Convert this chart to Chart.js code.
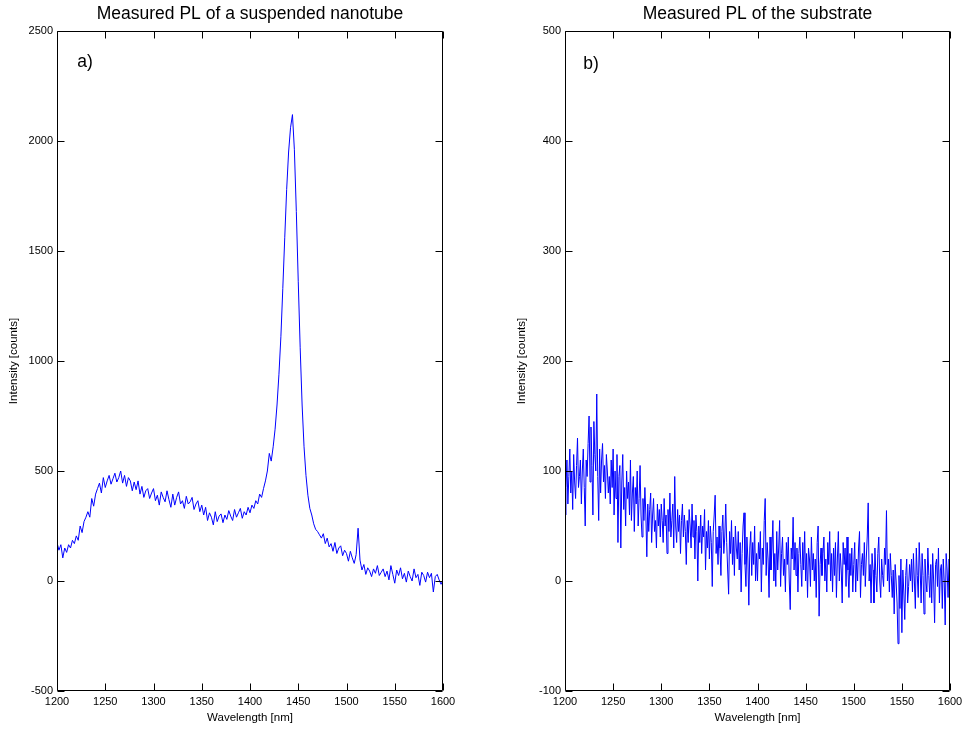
<!DOCTYPE html>
<html>
<head>
<meta charset="utf-8">
<script src="https://cdn.jsdelivr.net/npm/chart.js@4.4.1/dist/chart.umd.min.js"></script>
<style>
  body { margin: 0; background: #fff; }
  .panel { position: absolute; top: 0; height: 730px; }
</style>
</head>
<body>
<div class="panel" style="left:0;width:481px"><canvas id="chartA"></canvas></div>
<div class="panel" style="left:481px;width:482px"><canvas id="chartB"></canvas></div>
<script>
// wavelength grids: panel a) in 2 nm steps, panel b) in 1 nm steps
const wavelengthsA = [];
for (let w = 1200; w <= 1600; w += 2) wavelengthsA.push(w);
const wavelengthsB = [];
for (let w = 1200; w <= 1600; w += 1) wavelengthsB.push(w);

// a) suspended nanotube PL, counts (read off the plot)
const nanotubeCounts = [
  175, 140, 165, 105, 150, 130, 165, 150, 185, 170,
  205, 185, 250, 220, 270, 290, 315, 290, 375, 340,
  395, 420, 445, 400, 470, 425, 455, 480, 440, 465,
  490, 450, 470, 500, 445, 480, 430, 470, 455, 410,
  450, 415, 455, 395, 430, 380, 410, 420, 375, 400,
  420, 365, 390, 345, 405, 380, 360, 410, 370, 335,
  395, 345, 380, 405, 350, 365, 330, 385, 350, 360,
  380, 325, 350, 365, 315, 345, 300, 335, 275, 310,
  290, 255, 315, 270, 295, 305, 265, 300, 280, 320,
  295, 275, 325, 290, 310, 330, 285, 315, 300, 335,
  310, 345, 330, 365, 350, 395, 380, 420, 455, 500,
  580, 545, 610, 690, 800, 940, 1110, 1330, 1560, 1780,
  1950, 2060, 2120, 1960, 1680, 1360, 1060, 800, 610, 480,
  390, 330, 300, 260, 235, 225, 210, 195, 215, 170,
  195, 155, 170, 135, 175, 125, 150, 160, 115, 140,
  125, 90, 135, 105, 80, 120, 240, 95, 50, 75,
  30, 60, 45, 20, 55, 35, 70, 25, 40, 55,
  20, 45, 5, 70, 30, -10, 50, 25, 60, 10,
  35, -5, 45, 20, 0, 55, 15, 30, -20, 40,
  25, -5, 40, 15, 35, -50, 20, 30, 5, -15,
  5
];

// b) substrate PL, counts
const substrateCounts = [
  60, 85, 110, 70, 95, 120, 80, 100, 65, 115, 90, 75, 105, 130, 85, 95, 110, 70, 100, 120,
  85, 50, 110, 95, 125, 150, 90, 140, 105, 60, 145, 115, 100, 170, 95, 55, 120, 80, 110, 125,
  90, 105, 75, 115, 100, 80, 95, 70, 110, 85, 120, 60, 100, 75, 115, 35, 95, 105, 30, 90,
  115, 65, 85, 50, 100, 75, 90, 60, 110, 55, 80, 95, 45, 85, 70, 100, 50, 75, 105, 60,
  40, 75, 55, 85, 60, 22, 70, 45, 65, 80, 35, 60, 75, 45, 55, 30, 70, 50, 65, 40,
  70, 55, 35, 75, 50, 60, 25, 65, 45, 80, 40, 55, 70, 30, 95, 50, 35, 65, 45, 60,
  25, 55, 70, 40, 60, 45, 15, 55, 35, 65, 50, 30, 70, 40, 55, 20, 60, 45, 0, 50,
  35, 60, 25, 50, 40, 65, 10, 45, 30, 55, 20, 50, 35, -5, 45, 60, 78, 25, 40, 15,
  50, 30, 5, 45, 60, 25, 40, 70, 35, 10, -12, 45, 25, 55, 15, 40, 5, 50, 30, 20,
  45, 10, 35, -10, 25, 50, 62, 15, -5, 40, 20, -22, 30, 45, 5, 35, 15, 50, 0, 25,
  0, 35, 20, 45, -10, 30, 15, 55, 75, 5, 35, 20, -15, 40, 10, 30, 55, 0, 25, -5,
  45, 10, 30, 55, -5, 25, 40, 5, 20, -10, 35, 15, 40, 0, -26, 30, 20, 58, 10, 35,
  5, 30, -10, 25, 40, 15, -5, 35, 10, 45, 0, 25, -15, 30, 20, -5, 40, 10, 25, 0,
  20, -15, 35, 50, -32, 15, 30, 5, 25, 40, 0, 20, -10, 35, 15, 45, 0, 25, -10, 30,
  5, 35, -15, 20, 45, 0, 25, 10, -20, 35, 15, 30, -5, 40, 10, -15, 25, 5, 30, -10,
  15, 35, -10, 20, 0, 30, 45, -15, 15, 25, 5, 35, -5, 20, 40, 71, 0, 15, -20, 25,
  10, -20, 30, 5, -10, 25, 40, 0, -15, 20, 5, -5, 30, 15, 64, 0, 20, -10, 25, 5,
  -15, 10, -30, 15, 0, -20, -57, 5, -25, 20, -47, 10, -10, -35, 5, 20, -20, -5, 15, 0,
  20, -10, 25, 0, -25, 30, 5, -15, 35, 10, -20, 25, 5, -30, 20, 0, -10, 30, 5, -15,
  15, -20, 25, 0, -38, 15, 20, -5, 30, -20, 10, 15, -25, 20, 0, -40, 25, 10, -15, 20,
  5
];

const FONT = "'Liberation Sans', Arial, sans-serif";

// MATLAB-ish box with inward ticks and the panel tag
const boxAxes = {
  id: 'boxAxes',
  afterDraw(chart, args, opts) {
    const { ctx, chartArea: a, scales: { x, y } } = chart;
    const L = Math.round(a.left) + 0.5, R = Math.round(a.right) - 0.5;
    const T = Math.round(a.top) + 0.5, B = Math.round(a.bottom) - 0.5;
    ctx.save();
    ctx.strokeStyle = '#000';
    ctx.lineWidth = 1;
    ctx.beginPath();
    ctx.rect(L, T, R - L, B - T);
    x.ticks.forEach(t => {
      const px = Math.round(x.getPixelForValue(t.value)) + 0.5;
      ctx.moveTo(px, B); ctx.lineTo(px, B - 7);
      ctx.moveTo(px, T); ctx.lineTo(px, T + 7);
    });
    y.ticks.forEach(t => {
      const py = Math.round(y.getPixelForValue(t.value)) + 0.5;
      ctx.moveTo(L, py); ctx.lineTo(L + 7, py);
      ctx.moveTo(R, py); ctx.lineTo(R - 7, py);
    });
    ctx.stroke();
    ctx.fillStyle = '#000';
    ctx.font = '17.5px ' + FONT;
    ctx.textBaseline = 'middle';
    ctx.textAlign = 'left';
    ctx.fillText(opts.tag, x.getPixelForValue(opts.tagAt[0]), y.getPixelForValue(opts.tagAt[1]));
    ctx.restore();
  }
};

const plain = v => String(v);

function makeChart(id, title, xs, counts, yMin, yMax, yStep, tag, tagAt, pad) {
  return new Chart(document.getElementById(id), {
    type: 'line',
    data: {
      datasets: [{
        data: xs.map((w, i) => ({ x: w, y: counts[i] })),
        borderColor: '#0000ff',
        borderWidth: 1,
        pointRadius: 0,
        tension: 0,
        fill: false
      }]
    },
    options: {
      responsive: true,
      maintainAspectRatio: false,
      animation: false,
      layout: { padding: pad, autoPadding: false },
      plugins: {
        legend: { display: false },
        tooltip: { enabled: false },
        title: {
          display: true,
          text: title,
          fullSize: false,
          color: '#000',
          font: { family: FONT, size: 17.5, weight: 'normal' },
          padding: { top: 4, bottom: 6 }
        },
        boxAxes: { tag: tag, tagAt: tagAt }
      },
      scales: {
        x: {
          type: 'linear',
          min: 1200,
          max: 1600,
          grid: { display: false, drawTicks: false },
          border: { display: false },
          ticks: {
            stepSize: 50, autoSkip: false, maxRotation: 0, padding: 4,
            color: '#000', font: { family: FONT, size: 11 }, callback: plain
          },
          title: {
            display: true, text: 'Wavelength [nm]', color: '#000',
            font: { family: FONT, size: 11.5 }, padding: { top: 0, bottom: 5 }
          },
          afterFit(s) {
            s.height = 39;
            s.paddingLeft = 0;
            s.paddingRight = 0;
          }
        },
        y: {
          min: yMin,
          max: yMax,
          grid: { display: false, drawTicks: false },
          border: { display: false },
          ticks: {
            stepSize: yStep, padding: 4,
            color: '#000', font: { family: FONT, size: 11 }, callback: plain
          },
          title: {
            display: true, text: 'Intensity [counts]', color: '#000',
            font: { family: FONT, size: 11.5 }, padding: { top: 7, bottom: 0 }
          },
          afterFit(s) {
            s.width = 57;
            s.paddingTop = 0;
            s.paddingBottom = 0;
          }
        }
      }
    },
    plugins: [boxAxes]
  });
}

makeChart('chartA', 'Measured PL of a suspended nanotube', wavelengthsA, nanotubeCounts,
  -500, 2500, 500, 'a)', [1221, 2360], { left: 0, right: 38, top: 0, bottom: 0 });
makeChart('chartB', 'Measured PL of the substrate', wavelengthsB, substrateCounts,
  -100, 500, 100, 'b)', [1219, 470], { left: 27, right: 13, top: 0, bottom: 0 });
</script>
</body>
</html>
